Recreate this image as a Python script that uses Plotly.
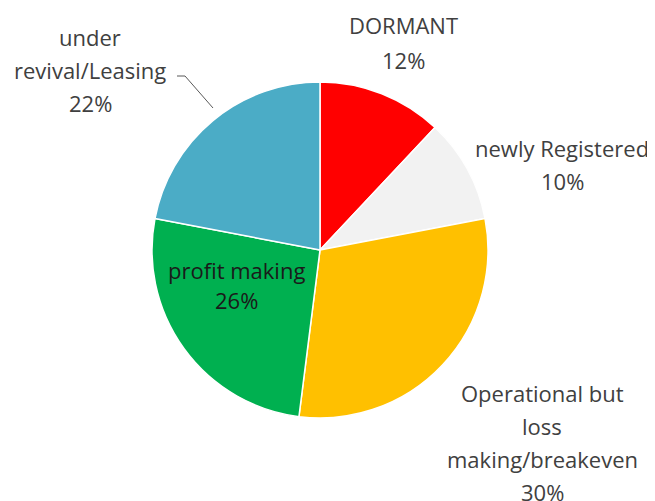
import plotly.graph_objects as go

# data
labels = ["DORMANT", "newly Registered", "Operational but loss making/breakeven",
          "profit making", "under revival/Leasing"]
values = [12, 10, 30, 26, 22]
colors = ["#ff0000", "#f2f2f2", "#ffc000", "#00b050", "#4bacc6"]

# label text as shown on the chart (one entry per line)
label_lines = [
    ["DORMANT", "12%"],
    ["newly Registered", "10%"],
    ["Operational but", "loss", "making/breakeven", "30%"],
    ["profit making", "26%"],
    ["under", "revival/Leasing", "22%"],
]

W, H = 655, 501
OFF = 8  # page body margin
cx, cy, r = 320, 250, 168


def px(x):
    return (x - OFF) / W


def py(y):
    return 1 - (y - OFF) / H


fig = go.Figure()

fig.add_trace(go.Pie(labels=labels,
                     values=values,
                     sort=False,
                     direction="clockwise",
                     rotation=0,
                     textinfo="none",
                     hoverinfo="label+percent",
                     marker=dict(colors=colors,
                                 line=dict(color="white", width=1.5)),
                     domain=dict(x=[px(cx - r), px(cx + r)],
                                 y=[py(cy + r), py(cy - r)]),
                     showlegend=False))

# label placement (centre of first line, line spacing) in pixels
label_pos = [(403, 25, 35), (562, 148, 33), (542, 393, 33), (236, 270, 30), (90, 37, 33)]
label_color = ["#404040", "#404040", "#404040", "#1a1a1a", "#404040"]

annotations = []
for lines, (lx, ly, step), col in zip(label_lines, label_pos, label_color):
    for k, line in enumerate(lines):
        annotations.append(dict(x=px(lx), y=py(ly + k * step),
                                xref="paper", yref="paper",
                                text=line, showarrow=False,
                                xanchor="center", yanchor="middle",
                                font=dict(family="Open Sans", size=22, color=col)))

# leader line for "under revival/Leasing"
fig.add_shape(type="path",
              path="M {} {} L {} {} L {} {}".format(px(177), py(76), px(185), py(76),
                                                    px(213), py(108)),
              xref="paper", yref="paper",
              line=dict(color="#595959", width=1))

fig.update_layout(width=W, height=H,
                  margin=dict(l=0, r=0, t=0, b=0),
                  paper_bgcolor="white",
                  plot_bgcolor="white",
                  annotations=annotations)

fig.write_html("out.html")
